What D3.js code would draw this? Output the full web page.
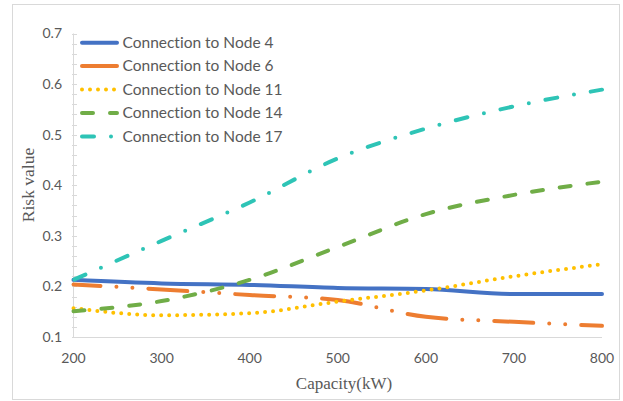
<!DOCTYPE html>
<html>
<head>
<meta charset="utf-8">
<script src="https://cdn.jsdelivr.net/npm/d3@7"></script>
<style>
  html, body { margin: 0; padding: 0; background: #fff; }
  svg { display: block; }
  text { font-variant-ligatures: none; font-feature-settings: "liga" 0; }
</style>
</head>
<body>
<svg id="chart" width="623" height="401"></svg>
<script>
// ---- data ----
const capacity = [200, 300, 400, 500, 600, 700, 800];
const node4  = [0.213, 0.206, 0.203, 0.197, 0.195, 0.185, 0.185];
const node6  = [0.204, 0.194, 0.183, 0.173, 0.140, 0.130, 0.122];
const node11 = [0.157, 0.143, 0.147, 0.170, 0.192, 0.220, 0.244];
const node14 = [0.151, 0.171, 0.213, 0.278, 0.343, 0.381, 0.407];
const node17 = [0.213, 0.290, 0.366, 0.453, 0.512, 0.556, 0.589];
const seriesNames = ["Connection to Node 4", "Connection to Node 6", "Connection to Node 11", "Connection to Node 14", "Connection to Node 17"];
const xTicks = [200, 300, 400, 500, 600, 700, 800];
const yTicks = [0.1, 0.2, 0.3, 0.4, 0.5, 0.6, 0.7];
const xTitle = "Capacity(kW)";
const yTitle = "Risk value";

// ---- styles ----
const styles = [
  { color: "#4472C4", dash: null, width: 4, offset: 0 },
  { color: "#ED7D31", dash: "39,16,0,16,0,16", width: 4, offset: 12 },
  { color: "#FFC000", dash: "0,8", width: 4, offset: 0 },
  { color: "#70AD47", dash: "11,17", width: 4, offset: 0 },
  { color: "#2EC4B6", dash: "12,17,0,17", width: 4, offset: -1 }
];
const allSeries = [node4, node6, node11, node14, node17];

const svg = d3.select("#chart");
const font = "Lato, 'Open Sans', sans-serif";
const textColor = "#595959";
const axisColor = "#d9d9d9";

// outer border
svg.append("rect").attr("x", 12.5).attr("y", 4.5).attr("width", 607).attr("height", 395)
  .attr("fill", "none").attr("stroke", axisColor).attr("stroke-width", 1);

const x = d3.scaleLinear().domain([200, 800]).range([73.5, 602]);
const y = d3.scaleLinear().domain([0.1, 0.7]).range([337, 33.5]);

// y axis line and minor ticks
svg.append("line").attr("x1", 73.5).attr("x2", 73.5).attr("y1", y(0.7)).attr("y2", y(0.1))
  .attr("stroke", axisColor).attr("stroke-width", 1);
const minor = d3.range(0, 31).map(i => 0.1 + i * 0.02);
svg.append("g").selectAll("line").data(minor).join("line")
  .attr("x1", 72).attr("x2", 77)
  .attr("y1", d => Math.round(y(d)) + 0.5).attr("y2", d => Math.round(y(d)) + 0.5)
  .attr("stroke", axisColor).attr("stroke-width", 1);

// x axis line
svg.append("line").attr("x1", 73.5).attr("x2", 602).attr("y1", 337.5).attr("y2", 337.5)
  .attr("stroke", axisColor).attr("stroke-width", 1);

// tick labels
svg.append("g").selectAll("text").data(yTicks).join("text")
  .attr("x", 62).attr("y", d => y(d)).attr("dy", "0.35em")
  .attr("text-anchor", "end").attr("font-family", font).attr("font-size", 14)
  .attr("fill", textColor).text(d => d.toFixed(1));
svg.append("g").selectAll("text").data(xTicks).join("text")
  .attr("x", d => x(d)).attr("y", 358).attr("dy", "0.35em")
  .attr("text-anchor", "middle").attr("font-family", font).attr("font-size", 14)
  .attr("fill", textColor).text(d => d);

// axis titles
svg.append("text").attr("x", 344).attr("y", 383).attr("dy", "0.35em")
  .attr("text-anchor", "middle").attr("font-family", "'Liberation Serif', 'Times New Roman', serif")
  .attr("font-size", 17).attr("fill", textColor).text(xTitle);
svg.append("text").attr("transform", "translate(28,185) rotate(-90)").attr("dy", "0.35em")
  .attr("text-anchor", "middle").attr("font-family", "'Liberation Serif', 'Times New Roman', serif")
  .attr("font-size", 17.5).attr("fill", textColor).text(yTitle);

// lines
const line = d3.line().x(d => x(d[0])).y(d => y(d[1])).curve(d3.curveMonotoneX);
allSeries.forEach((vals, i) => {
  const st = styles[i];
  const p = svg.append("path")
    .datum(capacity.map((c, j) => [c, vals[j]]))
    .attr("d", line).attr("fill", "none")
    .attr("stroke", st.color).attr("stroke-width", st.width)
    .attr("stroke-linecap", "round").attr("stroke-linejoin", "round");
  if (st.dash) p.attr("stroke-dasharray", st.dash).attr("stroke-dashoffset", st.offset);
});

// legend
const legendY = [42.7, 66, 89.5, 113, 136.5];
const lg = svg.append("g");
seriesNames.forEach((name, i) => {
  const st = styles[i];
  const l = lg.append("line").attr("x1", 82).attr("x2", 117)
    .attr("y1", legendY[i]).attr("y2", legendY[i])
    .attr("stroke", st.color).attr("stroke-width", st.width).attr("stroke-linecap", "round");
  if (st.dash) l.attr("stroke-dasharray", st.dash);
  lg.append("text").attr("x", 122.5).attr("y", legendY[i]).attr("dy", "0.35em")
    .attr("font-family", font).attr("font-size", 15.5).attr("fill", textColor).text(name);
});
</script>
</body>
</html>
